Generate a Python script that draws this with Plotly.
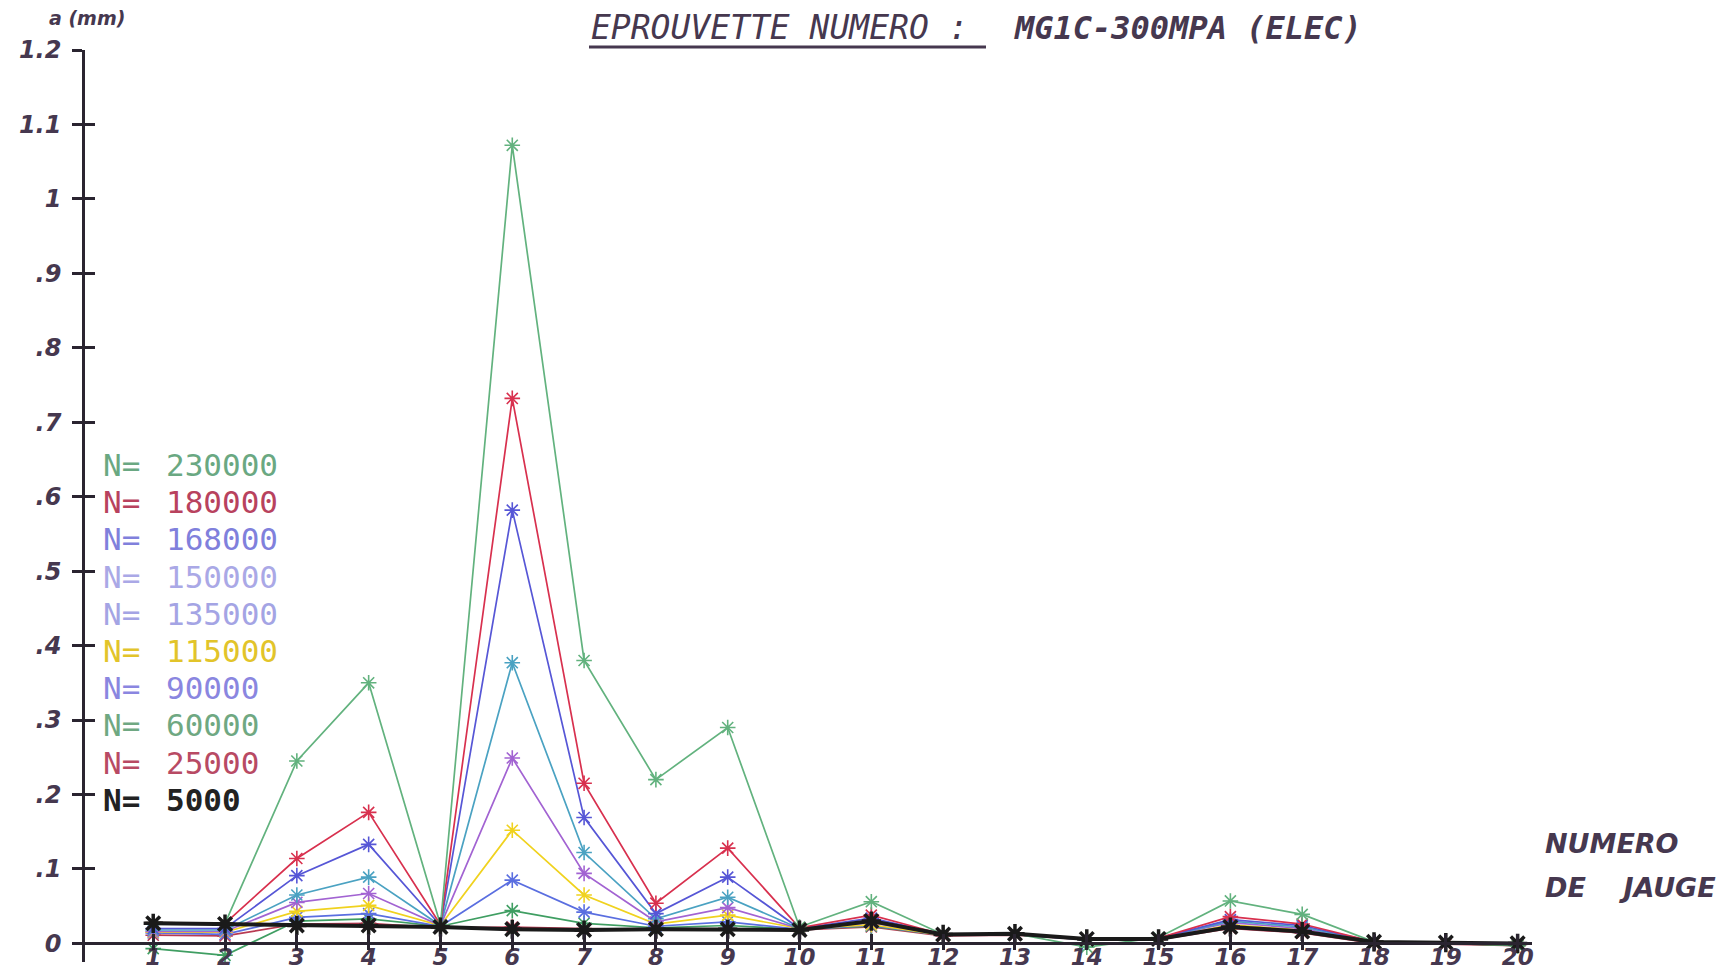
import plotly.graph_objects as go

# ---------------- data ----------------
gauges = list(range(1, 21))
series_names = ["230000", "180000", "168000", "150000", "135000",
                "115000", "90000", "60000", "25000", "5000"]

s230000 = [0.028, 0.027, 0.245, 0.350, 0.025, 1.072, 0.380, 0.220, 0.290, 0.022,
           0.056, 0.012, 0.013, -0.005, 0.008, 0.057, 0.039, 0.002, 0.001, -0.003]
s180000 = [0.028, 0.027, 0.114, 0.176, 0.025, 0.732, 0.215, 0.054, 0.128, 0.021,
           0.038, 0.012, 0.013, 0.006, 0.007, 0.036, 0.026, 0.002, 0.001, 0.000]
s168000 = [0.020, 0.020, 0.091, 0.133, 0.024, 0.582, 0.169, 0.040, 0.089, 0.020,
           0.034, 0.012, 0.013, 0.006, 0.007, 0.032, 0.024, 0.002, 0.001, 0.000]
s150000 = [0.018, 0.018, 0.065, 0.089, 0.024, 0.377, 0.122, 0.033, 0.062, 0.020,
           0.030, 0.012, 0.012, 0.006, 0.007, 0.030, 0.022, 0.002, 0.001, -0.001]
s135000 = [0.016, 0.016, 0.055, 0.067, 0.024, 0.249, 0.094, 0.029, 0.048, 0.020,
           0.028, 0.012, 0.012, 0.006, 0.007, 0.028, 0.020, 0.002, 0.000, -0.001]
s115000 = [0.015, 0.015, 0.043, 0.051, 0.024, 0.152, 0.065, 0.026, 0.038, 0.020,
           0.025, 0.011, 0.012, 0.006, 0.006, 0.025, 0.018, 0.001, 0.000, -0.002]
s90000 = [0.014, 0.012, 0.035, 0.040, 0.023, 0.085, 0.042, 0.023, 0.029, 0.019,
          0.024, 0.011, 0.012, 0.005, 0.006, 0.024, 0.017, 0.001, 0.000, -0.002]
s60000 = [-0.007, -0.016, 0.030, 0.033, 0.023, 0.044, 0.027, 0.021, 0.024, 0.019,
          0.023, 0.011, 0.012, 0.005, 0.006, 0.022, 0.016, 0.001, 0.000, -0.003]
s25000 = [0.011, 0.010, 0.026, 0.027, 0.021, 0.022, 0.020, 0.019, 0.020, 0.018,
          0.022, 0.010, 0.011, 0.005, 0.005, 0.020, 0.014, 0.000, -0.001, -0.003]
s5000 = [0.027, 0.026, 0.024, 0.024, 0.022, 0.019, 0.018, 0.019, 0.019, 0.018,
         0.030, 0.012, 0.013, 0.006, 0.006, 0.022, 0.016, 0.002, 0.001, 0.000]

ytick_vals = [0, 0.1, 0.2, 0.3, 0.4, 0.5, 0.6, 0.7, 0.8, 0.9, 1.0, 1.1, 1.2]
ytick_text = ["0", ".1", ".2", ".3", ".4", ".5", ".6", ".7", ".8", ".9", "1", "1.1", "1.2"]
xtick_text = [str(g) for g in gauges]

# ---------------- styles ----------------
line_colors = ["#62b27e", "#d8304e", "#5656d6", "#4aa2c2", "#a263d2",
               "#f0d21e", "#5a6ee0", "#3f9e62", "#b83a52", "#1a1a1a"]
legend_colors = ["#6aa882", "#b8425e", "#8080dc", "#aaa8e6", "#a4a4e4",
                 "#e2c42a", "#8a86e0", "#6fa882", "#b84a64", "#222222"]
series_vals = [s230000, s180000, s168000, s150000, s135000,
               s115000, s90000, s60000, s25000, s5000]

W, H = 1734, 970
OFF = 8                      # page body margin of the html page
PL, PT, PR, PB = 85, 50, 1532, 962   # plot area in page pixels
ML, MT = PL - OFF, PT - OFF
MR = W - (PR - OFF)
MB = H - (PB - OFF)
XR = [0.05, 20.2]
YR = [-0.025, 1.2]
PW = PR - PL
PH = PB - PT


def px2x(px):
    return (px - PL) / PW


def py2y(py):
    return (PB - py) / PH


TXT = "#46384f"
AX = "#2a2430"

fig = go.Figure()

order = [8, 7, 6, 5, 4, 3, 2, 1, 0, 9]
for i in order:
    is_black = series_names[i] == "5000"
    fig.add_trace(go.Scatter(
        x=gauges, y=series_vals[i], mode="lines+markers",
        name="N= " + series_names[i],
        line=dict(color=line_colors[i], width=4 if is_black else 1.7),
        marker=dict(symbol="asterisk-open", size=16 if is_black else 13,
                    line=dict(color=line_colors[i], width=3.5 if is_black else 1.6)),
        showlegend=False, cliponaxis=False,
    ))

# invisible helper traces for the tick marks on the other side of the axes
fig.add_trace(go.Scatter(x=gauges, y=s5000, xaxis="x", yaxis="y2",
                         mode="markers", opacity=0, showlegend=False, hoverinfo="skip"))
fig.add_trace(go.Scatter(x=gauges, y=s5000, xaxis="x2", yaxis="y",
                         mode="markers", opacity=0, showlegend=False, hoverinfo="skip"))

xpos = (0 - YR[0]) / (YR[1] - YR[0])
ytickfont = dict(family="DejaVu Sans", size=24, color=TXT, weight="bold", style="italic")
xtickfont = dict(family="DejaVu Sans", size=23, color=TXT, weight="bold", style="italic")

fig.update_layout(
    width=W, height=H,
    margin=dict(l=ML, r=MR, t=MT, b=MB, autoexpand=False),
    paper_bgcolor="white", plot_bgcolor="white",
    showlegend=False,
    xaxis=dict(range=XR, anchor="free", position=xpos, showgrid=False, zeroline=False,
               showline=True, linecolor=AX, linewidth=3, automargin=False,
               tickvals=gauges, ticktext=xtick_text, ticks="inside", ticklen=8,
               tickwidth=3, tickcolor=AX, tickfont=xtickfont, ticklabelstandoff=-8),
    xaxis2=dict(range=XR, overlaying="x", anchor="free", position=xpos, side="bottom",
                showgrid=False, zeroline=False, showline=False, automargin=False,
                tickvals=gauges, ticks="outside", ticklen=6, tickwidth=3,
                tickcolor=AX, showticklabels=False),
    yaxis=dict(range=YR, showgrid=False, zeroline=False, showline=True, automargin=False,
               linecolor=AX, linewidth=2.5, tickvals=ytick_vals, ticktext=ytick_text,
               ticks="outside", ticklen=10, tickwidth=2.5, tickcolor=AX,
               tickfont=ytickfont, ticklabelstandoff=6),
    yaxis2=dict(range=YR, overlaying="y", anchor="x", side="left", showgrid=False,
                automargin=False, zeroline=False, showline=False, tickvals=ytick_vals,
                ticks="inside", ticklen=10, tickwidth=2.5, tickcolor=AX,
                showticklabels=False),
)

annos = []
# title (two parts)
annos.append(dict(text="EPROUVETTE NUMERO :", xref="paper", yref="paper",
                  x=px2x(589), y=py2y(28), xanchor="left", yanchor="middle",
                  showarrow=False,
                  font=dict(family="DejaVu Sans Mono", size=33, color=TXT, style="italic")))
annos.append(dict(text="MG1C-300MPA (ELEC)", xref="paper", yref="paper",
                  x=px2x(1012), y=py2y(28), xanchor="left", yanchor="middle",
                  showarrow=False,
                  font=dict(family="DejaVu Sans Mono", size=32, color=TXT,
                            style="italic", weight="bold")))
# axis titles
annos.append(dict(text="a (mm)", xref="paper", yref="paper", x=px2x(87), y=py2y(18),
                  xanchor="center", yanchor="middle", showarrow=False,
                  font=dict(family="DejaVu Sans", size=19, color=TXT,
                            style="italic", weight="bold")))
annos.append(dict(text="NUMERO", xref="paper", yref="paper", x=px2x(1543), y=py2y(843),
                  xanchor="left", yanchor="middle", showarrow=False,
                  font=dict(family="DejaVu Sans", size=27, color=TXT,
                            style="italic", weight="bold")))
annos.append(dict(text="DE&nbsp;&nbsp;&nbsp;&nbsp;JAUGE", xref="paper", yref="paper",
                  x=px2x(1543), y=py2y(887),
                  xanchor="left", yanchor="middle", showarrow=False,
                  font=dict(family="DejaVu Sans", size=27, color=TXT,
                            style="italic", weight="bold")))
# text legend
for k, nm in enumerate(series_names):
    is_black = nm == "5000"
    f = dict(family="DejaVu Sans Mono", size=31, color=legend_colors[k],
             weight="bold" if is_black else "normal")
    ypos = py2y(465 + 37.2 * k)
    annos.append(dict(text="N=", xref="paper", yref="paper", x=px2x(101), y=ypos,
                      xanchor="left", yanchor="middle", showarrow=False, font=f))
    annos.append(dict(text=nm, xref="paper", yref="paper", x=px2x(164), y=ypos,
                      xanchor="left", yanchor="middle", showarrow=False, font=f))
fig.update_layout(annotations=annos)

# underline of the first title part
fig.add_shape(type="line", xref="paper", yref="paper",
              x0=px2x(589), x1=px2x(986), y0=py2y(47), y1=py2y(47),
              line=dict(color=TXT, width=3))

fig.write_html("out.html")
